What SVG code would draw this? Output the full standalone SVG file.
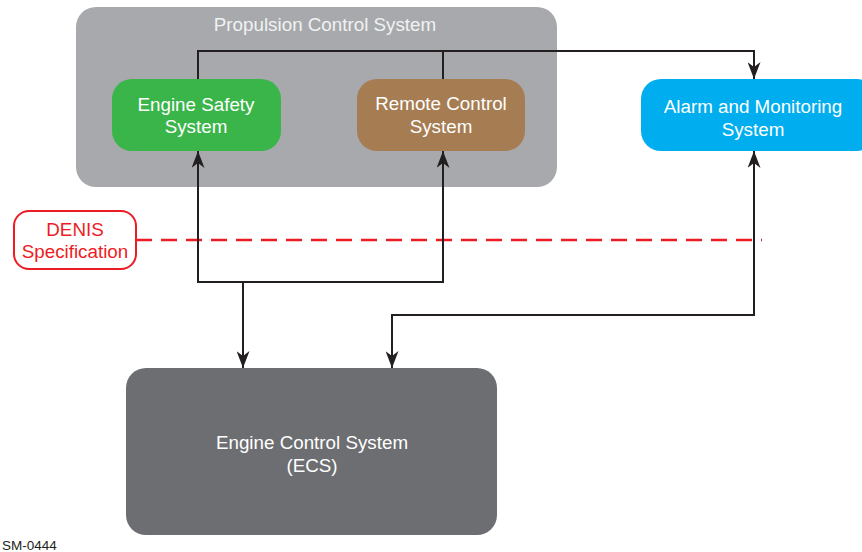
<svg xmlns="http://www.w3.org/2000/svg" width="862" height="552" viewBox="0 0 862 552">
<defs>
<marker id="ah" markerWidth="17" markerHeight="13" refX="17" refY="6.5" orient="auto-start-reverse" markerUnits="userSpaceOnUse" viewBox="0 0 17 13">
<path d="M0,0 L17,6.5 L0,13 L5,6.5 Z" fill="#231f20"/>
</marker>
<style>
text{font-family:"Liberation Sans",Arial,sans-serif;text-anchor:middle}
.w{fill:#ffffff;font-size:18.8px}
.c{fill:none;stroke:#231f20;stroke-width:2}
</style>
</defs>
<rect width="862" height="552" fill="#ffffff"/>
<g id="propulsion">
<rect x="76" y="7" width="481" height="180" rx="20" fill="#a7a9ac"/>
<text x="325" y="31" class="w" style="fill:#f1f2f2">Propulsion Control System</text>
</g>
<g id="engine-safety">
<rect x="112" y="79" width="169" height="72" rx="20" fill="#39b54a"/>
<text x="196" y="111" class="w">Engine Safety</text>
<text x="196" y="133" class="w">System</text>
</g>
<g id="remote-control">
<rect x="357" y="79" width="168" height="72" rx="20" fill="#a67c52"/>
<text x="441" y="110" class="w">Remote Control</text>
<text x="441" y="133" class="w">System</text>
</g>
<g id="alarm">
<rect x="641" y="79" width="236" height="72" rx="20" fill="#00aeef"/>
<text x="753" y="113" class="w">Alarm and Monitoring</text>
<text x="753" y="136" class="w">System</text>
</g>
<g id="ecs">
<rect x="126" y="368" width="371" height="167" rx="20" fill="#6d6e71"/>
<text x="312" y="449" class="w">Engine Control System</text>
<text x="312" y="472" class="w">(ECS)</text>
</g>
<g id="denis">
<rect x="14" y="211" width="122" height="58" rx="15" fill="#ffffff" stroke="#ed1c24" stroke-width="2"/>
<text x="75" y="236" style="fill:#ed1c24;font-size:18.8px">DENIS</text>
<text x="75" y="258" style="fill:#ed1c24;font-size:18.8px">Specification</text>
<line x1="136" y1="240" x2="762" y2="240" stroke="#ed1c24" stroke-width="2.5" stroke-dasharray="16,9"/>
</g>
<g id="connectors">
<path class="c" d="M198,79 V51 H754 V79" marker-end="url(#ah)"/>
<path class="c" d="M443,79 V51"/>
<path class="c" d="M198,151 V282 H443 V151" marker-start="url(#ah)" marker-end="url(#ah)"/>
<path class="c" d="M243,282 V368" marker-end="url(#ah)"/>
<path class="c" d="M754,151 V315 H392 V368" marker-start="url(#ah)" marker-end="url(#ah)"/>
</g>
<text x="2" y="550" style="text-anchor:start;font-size:13.5px;fill:#231f20">SM-0444</text>
</svg>
